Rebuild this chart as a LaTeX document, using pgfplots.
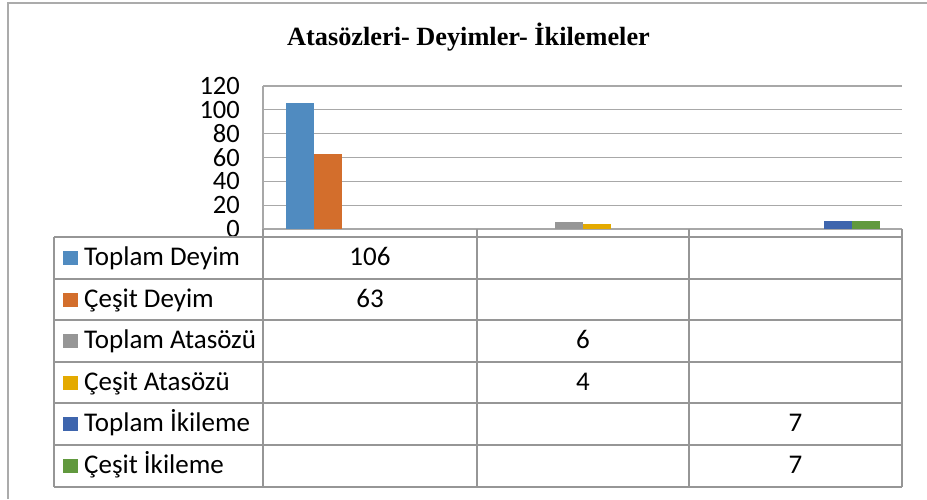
\documentclass[border=0pt]{standalone}
\usepackage{fontspec}
\setmainfont{Carlito}
\newfontfamily\titlefont{Liberation Serif}
\usepackage{pgfplots}
\pgfplotsset{compat=1.18}
\definecolor{cA}{RGB}{80,139,192}
\definecolor{cB}{RGB}{211,110,44}
\definecolor{cC}{RGB}{150,150,150}
\definecolor{cD}{RGB}{228,170,0}
\definecolor{cE}{RGB}{62,101,173}
\definecolor{cF}{RGB}{97,153,62}
\definecolor{gridc}{RGB}{168,168,168}
\definecolor{tabc}{RGB}{150,150,150}
\begin{document}
\begin{tikzpicture}[x=1pt,y=1pt]
\path[use as bounding box] (0,0) rectangle (927,499);
\draw[tabc!80, line width=1.5pt] (8,0) -- (8,496) -- (927,496);
\node[anchor=base, font=\titlefont\bfseries\fontsize{26.3}{30}\selectfont] at (468.5,453) {Atasözleri- Deyimler- İkilemeler};
\begin{axis}[
  at={(263pt,270pt)}, anchor=south west,
  scale only axis, width=639pt, height=143pt,
  xmin=-0.5, xmax=2.5, ymin=0, ymax=120,
  ytick={0,20,...,120}, xtick=\empty,
  axis lines*=left,
  axis line style={gridc, line width=1.3pt},
  ymajorgrids, grid style={gridc, line width=1.3pt},
  major tick length=0pt,
  yticklabel style={font=\fontsize{26.5}{30}\selectfont, inner sep=0pt, xshift=-23pt},
  /pgf/number format/assume math mode=true,
  ybar=0pt, bar width=28pt,
  clip=false,
]
\addplot[fill=cA, draw=none] coordinates {(0,106)};
\addplot[fill=cB, draw=none] coordinates {(0,63)};
\addplot[fill=cC, draw=none] coordinates {(1,6)};
\addplot[fill=cD, draw=none] coordinates {(1,4)};
\addplot[fill=cE, draw=none] coordinates {(2,7)};
\addplot[fill=cF, draw=none] coordinates {(2,7)};
\end{axis}
% data table
\begin{scope}[tabc, line width=1.5pt]
\foreach \yy in {262,220,179,137,96,54,12} {\draw (54,\yy) -- (902,\yy);}
\draw (54,262) -- (54,12);
\foreach \xx in {263,477,689,902} {\draw (\xx,270) -- (\xx,12);}
\end{scope}
\begin{scope}[font=\fontsize{27}{30}\selectfont]
\fill[cA] (63,234) rectangle (78,248);
\fill[cB] (63,192.5) rectangle (78,206.5);
\fill[cC] (63,151) rectangle (78,165);
\fill[cD] (63,109.5) rectangle (78,123.5);
\fill[cE] (63,68) rectangle (78,82);
\fill[cF] (63,26.5) rectangle (78,40.5);
\node[anchor=base west, inner sep=0pt] at (84,233.5) {Toplam Deyim};
\node[anchor=base west, inner sep=0pt] at (84,192) {Çeşit Deyim};
\node[anchor=base west, inner sep=0pt] at (84,150.5) {Toplam Atasözü};
\node[anchor=base west, inner sep=0pt] at (84,109) {Çeşit Atasözü};
\node[anchor=base west, inner sep=0pt] at (84,67.5) {Toplam İkileme};
\node[anchor=base west, inner sep=0pt] at (84,26) {Çeşit İkileme};
\node[anchor=base, inner sep=0pt] at (370,233.5) {106};
\node[anchor=base, inner sep=0pt] at (370,192) {63};
\node[anchor=base, inner sep=0pt] at (583,150.5) {6};
\node[anchor=base, inner sep=0pt] at (583,109) {4};
\node[anchor=base, inner sep=0pt] at (795.5,67.5) {7};
\node[anchor=base, inner sep=0pt] at (795.5,26) {7};
\end{scope}
\end{tikzpicture}
\end{document}
